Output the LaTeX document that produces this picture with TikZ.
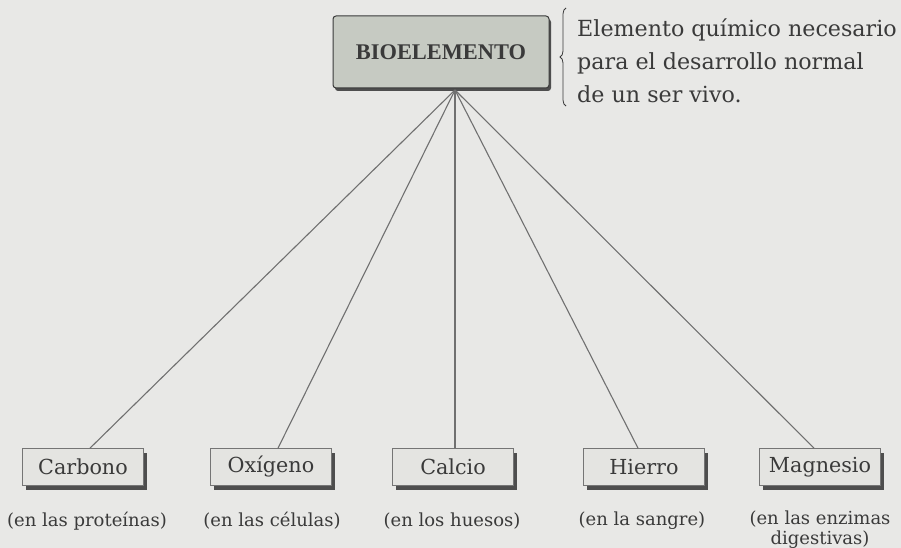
\documentclass[tikz,border=0pt]{standalone}
\usepackage{fontspec}
\setmainfont{DejaVu Serif}
\newfontfamily\titlefont{Liberation Serif}
\usetikzlibrary{shadows,decorations.pathreplacing,calc}
\definecolor{bgc}{HTML}{E8E8E6}
\definecolor{ink}{HTML}{3A3A3A}
\definecolor{linec}{HTML}{707070}
\definecolor{titlefill}{HTML}{C6CAC2}
\definecolor{boxfill}{HTML}{E4E4E1}
\tikzset{
  elembox/.style={draw=ink!70, line width=0.7pt, fill=boxfill, minimum width=121pt, minimum height=37pt,
    inner sep=0pt, text=ink, font=\fontsize{20.7}{24}\selectfont,
    drop shadow={shadow xshift=3pt, shadow yshift=-4pt, opacity=1, fill=ink!90}},
  titlebox/.style={draw=ink, line width=1pt, fill=titlefill, rounded corners=3pt, minimum width=216pt, minimum height=72pt,
    inner sep=0pt, text=ink, font=\titlefont\bfseries\fontsize{22.4}{26}\selectfont,
    drop shadow={shadow xshift=2pt, shadow yshift=-3pt, opacity=1, fill=ink!90}},
  note/.style={text=ink, font=\fontsize{18}{20}\selectfont, align=center, inner sep=0pt},
  conn/.style={draw=linec, line width=1.1pt},
}
\begin{document}
\begin{tikzpicture}[x=1pt,y=1pt]
\fill[bgc] (0,0) rectangle (901,-548);
\useasboundingbox (0,0) rectangle (901,-548);

\node[titlebox] (bio) at (441,-52) {BIOELEMENTO};
\coordinate (hub) at (455,-90);

\draw[ink, line width=0.8pt, decorate, decoration={brace, amplitude=6pt}] (566,-106) -- (566,-8);
\node[anchor=west, text=ink, align=left, inner sep=0pt, font=\fontsize{22.2}{33}\selectfont] (def) at (577,-61)
  {Elemento químico necesario\\para el desarrollo normal\\de un ser vivo.};

\node[elembox] (c1) at (83,-467) {Carbono};
\node[elembox] (c2) at (271,-467) {Oxígeno};
\node[elembox] (c3) at (453,-467) {Calcio};
\node[elembox] (c4) at (644,-467) {Hierro};
\node[elembox] (c5) at (820,-467) {Magnesio};

\node[note] (n1) at (87,-521) {(en las proteínas)};
\node[note] (n2) at (272,-521) {(en las células)};
\node[note] (n3) at (452,-521) {(en los huesos)};
\node[note] (n4) at (642,-521) {(en la sangre)};
\node[note, anchor=north] (n5) at (820,-511) {(en las enzimas\\digestivas)};

\draw[conn] (hub) -- (c1.north -| 90,0);
\draw[conn] (hub) -- (c2.north -| 278,0);
\draw[conn] (hub) -- (c3.north -| 455,0);
\draw[conn] (hub) -- (c4.north -| 638,0);
\draw[conn] (hub) -- (c5.north -| 814,0);
\end{tikzpicture}
\end{document}
